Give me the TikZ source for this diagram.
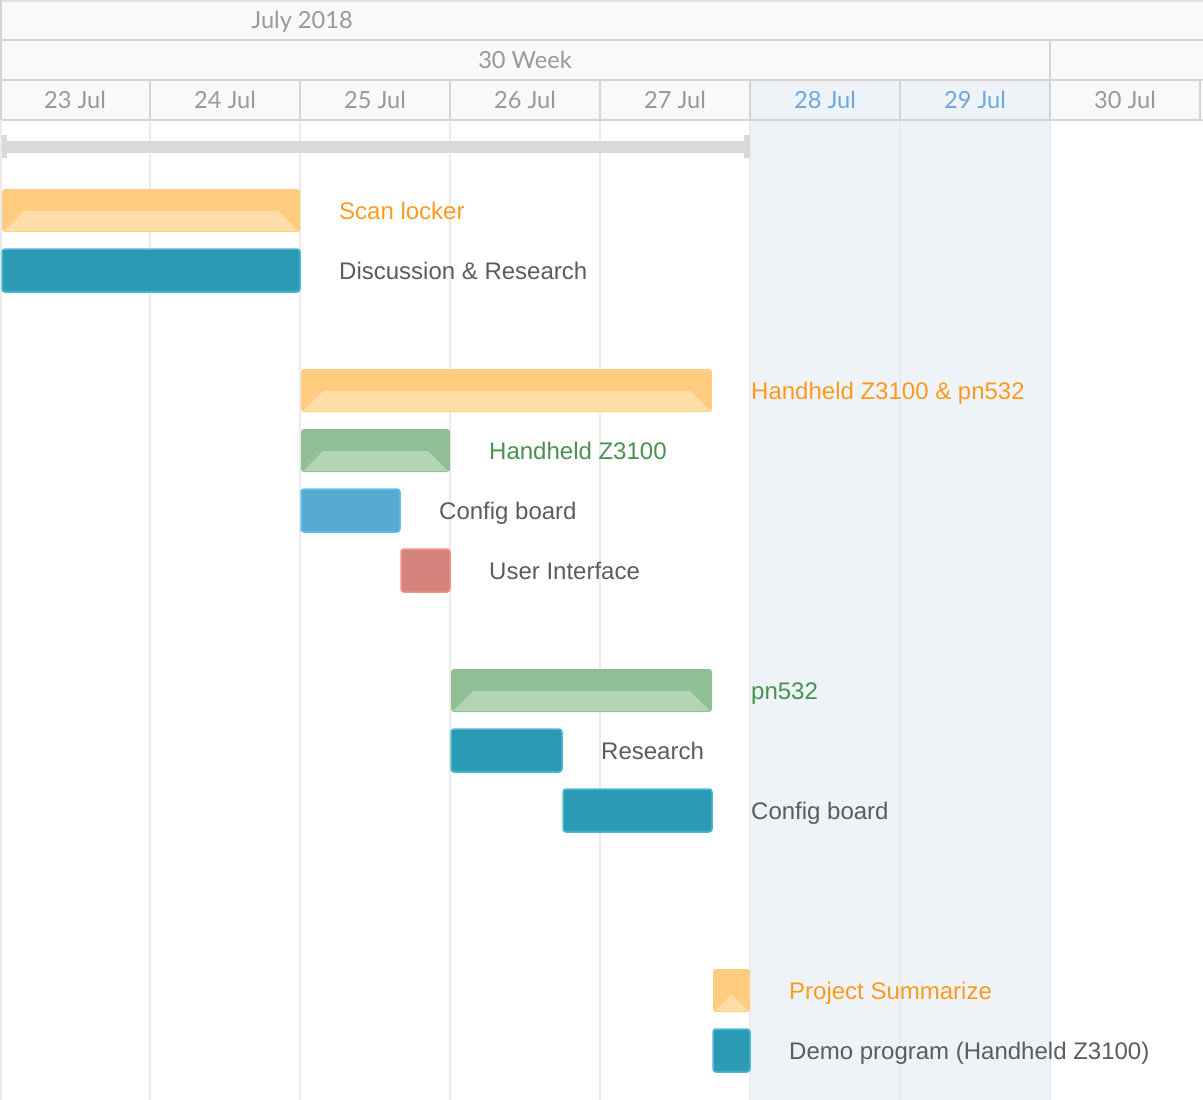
\documentclass[tikz,border=0pt]{standalone}
\usepackage{fontspec}
\setmainfont{Liberation Sans}
\newfontfamily\hdrfont{Lato}
\usetikzlibrary{positioning}
\definecolor{hdrbg}{HTML}{F9F9F9}
\definecolor{hdrline}{HTML}{D4D4D4}
\definecolor{hdrtxt}{HTML}{999999}
\definecolor{wkndbg}{HTML}{EEF3F8}
\definecolor{wkndtxt}{HTML}{6FA8DC}
\definecolor{gridln}{HTML}{EBEBEB}
\definecolor{projbar}{HTML}{D9D9D9}
\definecolor{sumor}{HTML}{FFCC80}
\definecolor{sumorlt}{HTML}{FFDDA9}
\definecolor{sumgr}{HTML}{8FBF92}
\definecolor{sumgrlt}{HTML}{B4D4B6}
\definecolor{ortxt}{HTML}{FF9A1F}
\definecolor{grtxt}{HTML}{4A9150}
\definecolor{tasktxt}{HTML}{5C5C5C}
\definecolor{tealbar}{HTML}{2B9AB4}
\definecolor{tealedge}{HTML}{4DBAD0}
\definecolor{bluebar}{HTML}{58ABD0}
\definecolor{blueedge}{HTML}{5EC2F2}
\definecolor{redbar}{HTML}{D4837D}
\definecolor{rededge}{HTML}{F2908A}
\tikzset{
  hdrtext/.style  = {font=\hdrfont\fontsize{23.6}{28}\selectfont, text=hdrtxt,
                     text height=17pt, text depth=0pt, inner sep=0pt},
  taskbar/.style  = {rectangle, rounded corners=3pt, inner sep=0pt, outer sep=0pt,
                     minimum height=43pt, anchor=west},
  sumbar/.style   = {taskbar, fill=#1},
  tealtask/.style = {taskbar, fill=tealbar, draw=tealedge, line width=1.5pt},
  bluetask/.style = {taskbar, fill=bluebar, draw=blueedge, line width=1.5pt},
  redtask/.style  = {taskbar, fill=redbar, draw=rededge, line width=1.5pt},
  tasklabel/.style= {font=\fontsize{24}{28}\selectfont, text=tasktxt,
                     text height=17pt, text depth=0pt, inner sep=0pt}
}
\begin{document}
\begin{tikzpicture}[x=1pt,y=-1pt]
  \useasboundingbox (0,0) rectangle (1203,1100);
  % header and weekend background
  \fill[hdrbg] (0,0) rectangle (1203,120);
  \fill[wkndbg] (750,80) rectangle (1050,1100);
  \foreach \x in {150,300,...,1050} { \draw[gridln, line width=2pt] (\x,120) -- (\x,1100); }
  \draw[hdrline!70, line width=1.5pt] (0,1) -- (1203,1);
  \foreach \y in {40,80,120} { \draw[hdrline, line width=2pt] (0,\y) -- (1203,\y); }
  \draw[hdrline, line width=2pt] (1,0) -- (1,120);
  \draw[gridln, line width=2pt] (1,120) -- (1,1100);
  \draw[hdrline, line width=2pt] (1050,40) -- (1050,80);
  \foreach \x in {150,300,...,1200} { \draw[hdrline, line width=2pt] (\x,80) -- (\x,120); }
  \node[hdrtext] (month) at (302,20) {July 2018};
  \node[hdrtext] (week) at (525,60) {30 Week};
  \foreach \d/\c [count=\i from 0] in {23/hdrtxt, 24/hdrtxt, 25/hdrtxt, 26/hdrtxt,
      27/hdrtxt, 28/wkndtxt, 29/wkndtxt, 30/hdrtxt} {
    \node[hdrtext, text=\c] (d\d) at (75+150*\i,100) {\d{} Jul};
  }
  % project bar
  \fill[projbar] (2,141) rectangle (750,153);
  \fill[projbar] (2,135) rectangle (7,158);
  \fill[projbar] (744,135) rectangle (750,158);
  % summary tasks
  \foreach \tk/\xa/\xb/\yc/\fc/\lc/\tc/\txt in {
      t1/2/300/210.5/sumor/sumorlt/ortxt/Scan locker,
      t3/301/712/390.5/sumor/sumorlt/ortxt/Handheld Z3100 \& pn532,
      t4/301/450/450.5/sumgr/sumgrlt/grtxt/Handheld Z3100,
      t7/451/712/690.5/sumgr/sumgrlt/grtxt/pn532,
      t10/713/750/990.5/sumor/sumorlt/ortxt/Project Summarize} {
    \pgfmathsetmacro\w{\xb-\xa}
    \pgfmathsetmacro\h{min(20,(\xb-\xa-4)/2)}
    \node[sumbar=\fc, minimum width=\w pt] (\tk) at (\xa,\yc) {};
    \fill[\lc] (\xa+2,\yc+20.5) -- (\xb-2,\yc+20.5) -- (\xb-2-\h,\yc+20.5-\h)
      -- (\xa+2+\h,\yc+20.5-\h) -- cycle;
    \node[tasklabel, text=\tc, right=39pt of \tk] (\tk-l) {\txt};
  }
  % plain tasks
  \foreach \tk/\xa/\xb/\yc/\sty/\txt in {
      t2/2/300/270.5/tealtask/Discussion \& Research,
      t5/301/400/510.5/bluetask/Config board,
      t6/401/450/570.5/redtask/User Interface,
      t8/451/562/750.5/tealtask/Research,
      t9/563/712/810.5/tealtask/Config board,
      t11/713/750/1050.5/tealtask/Demo program (Handheld Z3100)} {
    \pgfmathsetmacro\w{\xb-\xa}
    \node[\sty, minimum width=\w pt] (\tk) at (\xa,\yc) {};
    \node[tasklabel, right=39pt of \tk] (\tk-l) {\txt};
  }
\end{tikzpicture}
\end{document}
